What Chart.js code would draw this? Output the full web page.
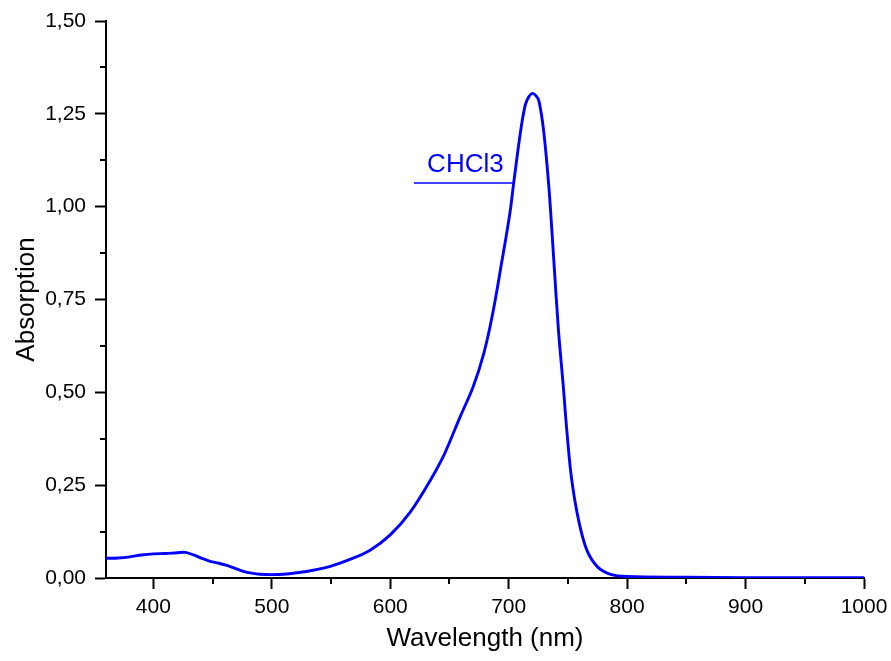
<!DOCTYPE html>
<html>
<head>
<meta charset="utf-8">
<title>Absorption spectrum</title>
<script src="https://cdn.jsdelivr.net/npm/chart.js@4.4.1/dist/chart.umd.min.js"></script>
<style>
    html, body { margin: 0; padding: 0; background: #fff; }
    #wrap { width: 891px; height: 661px; position: relative; }
</style>
</head>
<body>
<div id="wrap"><canvas id="spectrumChart"></canvas></div>
<script>
// Spectrum
const wavelengths = [360, 370, 380, 390, 400, 410, 420, 427, 434, 441, 448, 455, 462, 469, 476, 483, 490, 500, 510,
    521, 535, 550, 566, 583, 600, 617, 634, 644, 650, 659, 670, 679, 686, 694, 701, 704, 710, 714, 717, 720, 723,
    725.5, 729.5, 734, 738, 742, 746, 749, 753, 759, 766, 775, 786, 800, 850, 900, 950, 1000];
const absorption = [0.053, 0.054, 0.057, 0.062, 0.065, 0.066, 0.068, 0.069, 0.062, 0.053, 0.045, 0.040, 0.034, 0.026, 0.018, 0.013, 0.010, 0.009, 0.010,
    0.014, 0.021, 0.032, 0.050, 0.075, 0.116, 0.178, 0.264, 0.322, 0.365, 0.434, 0.515, 0.605, 0.704, 0.848, 0.982, 1.058, 1.202, 1.274, 1.296, 1.305, 1.299,
    1.285, 1.205, 1.050, 0.860, 0.668, 0.520, 0.400, 0.270, 0.156, 0.075, 0.030, 0.010, 0.004, 0.002, 0.001, 0.001, 0.001];

const seriesName = 'CHCl3';
const xMinorTicks = [450, 550, 650, 750, 850, 950];
const yMinorTicks = [0.125, 0.375, 0.625, 0.875, 1.125, 1.375];

// legend sample line, in data units
const legendLine = { x1: 620, x2: 703.5, y: 1.064 };

const FONT = 'Arial, "Liberation Sans", sans-serif';
const BLUE = '#0000ff';

// draws the short minor ticks and the in-plot legend
const extrasPlugin = {
    id: 'extras',
    afterDraw(chart) {
        const ctx = chart.ctx;
        const xs = chart.scales.x;
        const ys = chart.scales.y;
        const area = chart.chartArea;

        ctx.save();
        ctx.strokeStyle = '#000';
        ctx.lineWidth = 2;
        ctx.beginPath();
        xMinorTicks.forEach(v => {
            const px = Math.round(xs.getPixelForValue(v));
            ctx.moveTo(px, area.bottom);
            ctx.lineTo(px, area.bottom + 6);
        });
        yMinorTicks.forEach(v => {
            const py = Math.round(ys.getPixelForValue(v));
            ctx.moveTo(area.left, py);
            ctx.lineTo(area.left - 6, py);
        });
        ctx.stroke();

        // legend
        const lx1 = xs.getPixelForValue(legendLine.x1);
        const lx2 = xs.getPixelForValue(legendLine.x2);
        const ly = ys.getPixelForValue(legendLine.y);
        ctx.strokeStyle = BLUE;
        ctx.lineWidth = 1.5;
        ctx.beginPath();
        ctx.moveTo(lx1, ly);
        ctx.lineTo(lx2, ly);
        ctx.stroke();

        ctx.fillStyle = BLUE;
        ctx.font = '26px ' + FONT;
        ctx.textAlign = 'center';
        ctx.textBaseline = 'alphabetic';
        ctx.fillText(seriesName, (lx1 + lx2) / 2 + 2, ly - 11);
        ctx.restore();
    }
};

const points = wavelengths.map((w, i) => ({ x: w, y: absorption[i] }));

new Chart(document.getElementById('spectrumChart'), {
    type: 'line',
    data: {
        datasets: [{
            label: seriesName,
            data: points,
            borderColor: BLUE,
            borderWidth: 2.9,
            pointRadius: 0,
            fill: false,
            tension: 0.35
        }]
    },
    options: {
        responsive: true,
        maintainAspectRatio: false,
        animation: false,
        layout: { padding: { top: 21, right: 27, left: 0, bottom: 0 } },
        plugins: {
            legend: { display: false },
            tooltip: { enabled: false }
        },
        scales: {
            x: {
                type: 'linear',
                min: 360,
                max: 1000,
                afterFit: (scale) => {
                    scale.height = 83;
                    scale.paddingRight = 0;
                    scale.paddingLeft = 0;
                },
                border: { display: true, color: '#000', width: 2 },
                grid: {
                    drawOnChartArea: false,
                    drawTicks: true,
                    tickLength: 11,
                    tickWidth: 2,
                    tickColor: '#000'
                },
                ticks: {
                    stepSize: 100,
                    includeBounds: false,
                    autoSkip: false,
                    maxRotation: 0,
                    padding: 6,
                    color: '#000',
                    font: { family: FONT, size: 21 },
                    callback: (v) => String(v)
                },
                title: {
                    display: true,
                    text: 'Wavelength (nm)',
                    color: '#000',
                    font: { family: FONT, size: 26 },
                    padding: { top: 0, bottom: 7 }
                }
            },
            y: {
                min: 0,
                max: 1.5,
                afterFit: (scale) => {
                    scale.width = 106;
                    scale.paddingTop = 0;
                    scale.paddingBottom = 0;
                },
                border: { display: true, color: '#000', width: 2 },
                grid: {
                    drawOnChartArea: false,
                    drawTicks: true,
                    tickLength: 11,
                    tickWidth: 2,
                    tickColor: '#000'
                },
                ticks: {
                    stepSize: 0.25,
                    autoSkip: false,
                    padding: 9,
                    color: '#000',
                    font: { family: FONT, size: 21 },
                    callback: (v) => v.toFixed(2).replace('.', ',')
                },
                title: {
                    display: true,
                    text: 'Absorption',
                    color: '#000',
                    font: { family: FONT, size: 26 },
                    padding: { top: 11, bottom: 0 }
                }
            }
        }
    },
    plugins: [extrasPlugin]
});
</script>
</body>
</html>
